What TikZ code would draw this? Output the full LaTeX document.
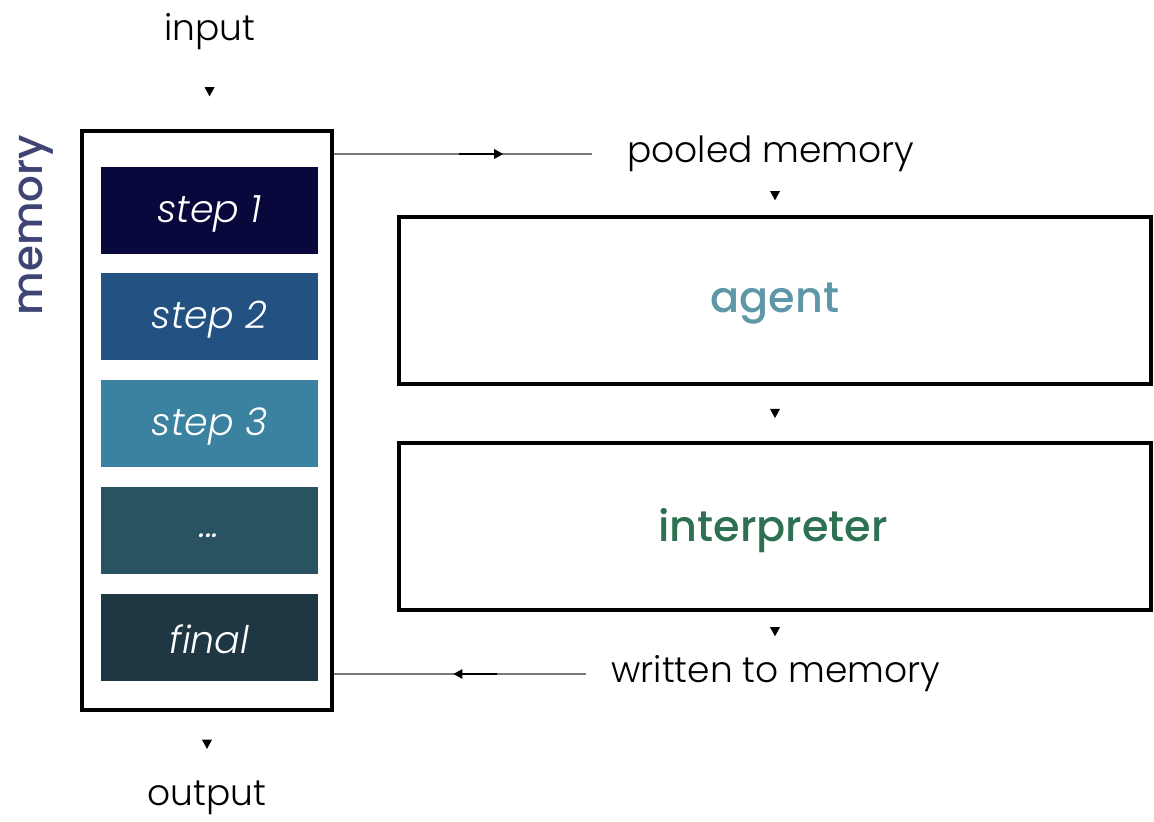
\documentclass[tikz,border=0pt]{standalone}
\usepackage{fontspec}
\setmainfont{Poppins}[UprightFont=* Light, ItalicFont=* Light Italic, BoldFont=* Medium]
\usetikzlibrary{decorations.markings}
\definecolor{cstepA}{HTML}{08083D}
\definecolor{cstepB}{HTML}{235282}
\definecolor{cstepC}{HTML}{3A82A0}
\definecolor{cstepD}{HTML}{2A5362}
\definecolor{cstepE}{HTML}{1E3742}
\definecolor{cagent}{HTML}{5E98A8}
\definecolor{cinterp}{HTML}{2E7052}
\definecolor{cmem}{HTML}{3E4473}
\definecolor{cline}{HTML}{7A7A7A}
\tikzset{
  lbl/.style={font=\fontsize{18}{21}\selectfont, inner sep=2pt},
  stepbox/.style={minimum width=108.5pt, minimum height=43.5pt, inner sep=0pt,
    text=white, font=\fontsize{19}{22}\selectfont\itshape},
  steptext/.style={text=white, font=\fontsize{19}{22}\selectfont\itshape},
  bigbox/.style={draw=black, line width=2pt, minimum width=376pt, minimum height=83.5pt, inner sep=0pt},
  tri/.style={decoration={markings, mark=at position 0.5 with {\fill[black] (2.3pt,0pt) -- (-2.3pt,2.5pt) -- (-2.3pt,-2.5pt) -- cycle;}}, decorate},
  conn/.style={draw=cline, line width=0.7pt, postaction={decorate},
    decoration={markings, mark=at position #1 with {\draw[black, line width=0.8pt] (-20pt,0pt) -- (-2pt,0pt); \fill[black] (2pt,0pt) -- (-2.5pt,2.5pt) -- (-2.5pt,-2.5pt) -- cycle;}}},
}
\begin{document}
\begin{tikzpicture}[x=0.5pt, y=-0.5pt]
\useasboundingbox (0,0) rectangle (1154,822);
% memory container
\node[draw=black, line width=2pt, minimum width=125pt, minimum height=289.5pt, inner sep=0pt] (memory) at (207,420.5) {};
\node[rotate=90, text=cmem, font=\fontsize{21}{25}\selectfont\bfseries] (memlabel) at (36,225) {memory};
\node[stepbox, fill=cstepA] (s1) at (209.5,210.5) {};
\node[stepbox, fill=cstepB] (s2) at (209.5,317) {};
\node[stepbox, fill=cstepC] (s3) at (209.5,423.5) {};
\node[stepbox, fill=cstepD] (s4) at (209.5,530.5) {};
\node[stepbox, fill=cstepE] (s5) at (209.5,637.5) {};
\node[steptext] (t1) at ([yshift=-1.5pt]s1.center) {step 1};
\node[steptext] (t2) at ([yshift=-1.5pt]s2.center) {step 2};
\node[steptext] (t3) at ([yshift=-1.5pt]s3.center) {step 3};
\node[steptext] (t4) at ([yshift=-2.5pt]s4.center) {...};
\node[steptext] (t5) at ([yshift=-1pt]s5.center) {final};
% io labels
\node[lbl] (input) at (210,32) {input};
\node[lbl] (output) at (207,798) {output};
% right side
\node[lbl, inner xsep=17.5pt, anchor=west] (pooled) at (592,154) {pooled memory};
\node[bigbox] (agent) at (775,300.5) {};
\node[text=cagent, font=\fontsize{21.5}{25}\selectfont\bfseries] (agentlbl) at (775,304) {agent};
\node[bigbox] (interp) at (775,526.5) {};
\node[text=cinterp, font=\fontsize{21.5}{25}\selectfont\bfseries] (interplbl) at (773,531) {interpreter};
\node[lbl, inner xsep=12.5pt, anchor=west] (written) at (586,674) {written to memory};
% small arrowheads
\path[tri] (input) -- (memory);
\path[tri] (pooled.south -| agent.north) -- (agent);
\path[tri] (agent) -- (interp);
\path[tri] (interp) -- (written.north -| interp.south);
\path[tri] (memory) -- (output);
% connectors
\draw[conn=0.64] (memory.east |- pooled.west) -- (pooled.west);
\draw[conn=0.51] (written.west) -- (memory.east |- written.west);
\end{tikzpicture}
\end{document}
